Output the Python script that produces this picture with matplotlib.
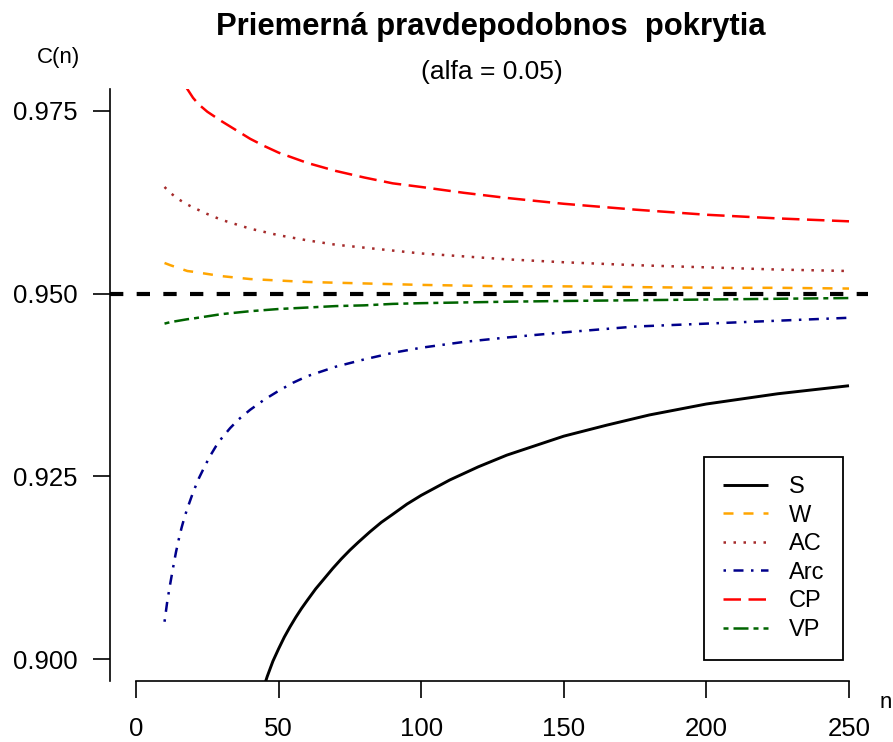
#!/usr/bin/env python3
# -*- coding: utf-8 -*-
"""
Priemerná pravdepodobnosť pokrytia C(n) pre 6 intervalov (alfa = 0.05).
Hodnoty odčítané z obrázka, kreslí sa v štýle base-R grafu.
"""

import matplotlib
matplotlib.use('Agg')                 # bez displeja
import matplotlib.pyplot as plt

plt.rcParams.update({
    'figure.facecolor': 'white',
    'axes.facecolor':   'white',
    'font.family':      ['Liberation Sans', 'DejaVu Sans'],
    'font.size':        18.5,
    'lines.scale_dashes': False,
    'lines.solid_capstyle': 'butt',
    'lines.dash_capstyle': 'butt',
})

# --- data (odčítané z grafu) ---
N_GRID = [10, 12, 15, 18, 20, 25, 30, 35, 40, 50, 60, 70, 80, 90, 100,
          115, 130, 150, 175, 200, 225, 250]

N_S = [44, 46, 48, 50, 52, 54, 56, 58, 60, 63, 66, 69, 72, 75, 78, 82, 86,
       90, 95, 100, 110, 120, 130, 140, 150, 165, 180, 200, 225, 250]
C_S = [0.8952, 0.8976, 0.8997, 0.9014, 0.9030, 0.9044, 0.9057, 0.9069,
       0.9080, 0.9096, 0.9110, 0.9124, 0.9137, 0.9149, 0.9160, 0.9174,
       0.9187, 0.9198, 0.9212, 0.9224, 0.9245, 0.9263, 0.9279, 0.9292,
       0.9305, 0.9320, 0.9334, 0.9349, 0.9363, 0.9374]

C_W = [0.9542, 0.9539, 0.9535, 0.9531, 0.9530, 0.9527, 0.9524, 0.9522,
       0.9520, 0.9518, 0.9516, 0.9515, 0.9514, 0.9513, 0.9512, 0.9511,
       0.9510, 0.9510, 0.9509, 0.9508, 0.9508, 0.9507]

C_AC = [0.9646, 0.9638, 0.9629, 0.9622, 0.9618, 0.9609, 0.9601, 0.9595,
        0.9589, 0.9580, 0.9573, 0.9567, 0.9563, 0.9559, 0.9555, 0.9551,
        0.9547, 0.9543, 0.9539, 0.9536, 0.9533, 0.9531]

N_ARC = [10, 11, 12, 13, 14, 15, 16, 17, 18, 20, 22, 24, 26, 28, 30, 33,
         36, 40, 45, 50, 55, 60, 70, 80, 90, 100, 115, 130, 150, 175, 200,
         225, 250]
C_ARC = [0.9051, 0.9080, 0.9103, 0.9125, 0.9146, 0.9164, 0.9180, 0.9194,
         0.9206, 0.9228, 0.9247, 0.9263, 0.9278, 0.9291, 0.9302, 0.9316,
         0.9328, 0.9341, 0.9355, 0.9367, 0.9378, 0.9387, 0.9400, 0.9410,
         0.9419, 0.9426, 0.9434, 0.9440, 0.9447, 0.9455, 0.9459, 0.9463,
         0.9467]

N_CP = [10, 14, 16, 18, 20, 22, 25, 30, 35, 40, 45, 50, 60, 70, 80, 90,
        100, 115, 130, 150, 175, 200, 225, 250]
C_CP = [0.9845, 0.9806, 0.9792, 0.9780, 0.9768, 0.9759, 0.9749, 0.9736,
        0.9724, 0.9712, 0.9702, 0.9693, 0.9679, 0.9668, 0.9659, 0.9651,
        0.9646, 0.9638, 0.9631, 0.9623, 0.9615, 0.9608, 0.9603, 0.9599]

C_VP = [0.9459, 0.9461, 0.9463, 0.9465, 0.9466, 0.9469, 0.9472, 0.9474,
        0.9476, 0.9479, 0.9481, 0.9483, 0.9484, 0.9486, 0.9487, 0.9488,
        0.9489, 0.9490, 0.9491, 0.9492, 0.9493, 0.9494]

LABELS = ['S', 'W', 'AC', 'Arc', 'CP', 'VP']
X_TICKS = [0, 50, 100, 150, 200, 250]
Y_TICKS = [0.900, 0.925, 0.950, 0.975]
ALFA = 0.05
NOMINAL = 1 - ALFA

W, H = 893, 742
fig = plt.figure(figsize=(W / 100, H / 100), dpi=100)
# plotovacia oblasť v pixeloch: x 110..868, y 89..681
ax = fig.add_axes([110 / W, 1 - 681 / H, (868 - 110) / W, (681 - 89) / H])

u = 1.8   # základná jednotka čiarkovania (pt), ~ R lty pri lwd=1
lw = 1.8
specs = [
    (N_S,    C_S,   'black',   '-',                              2.1),
    (N_GRID, C_W,   '#FFA500', (0, (4 * u, 4 * u)),              lw),
    (N_GRID, C_AC,  '#A52A2A', (0, (1 * u, 3 * u)),              lw),
    (N_ARC,  C_ARC, '#00008B', (0, (1 * u, 3 * u, 4 * u, 3 * u)), lw),
    (N_CP,   C_CP,  '#FF0000', (0, (7 * u, 3 * u)),              lw),
    (N_GRID, C_VP,  '#006400', (0, (2 * u, 2 * u, 6 * u, 2 * u)), lw),
]
handles = []
for (xs, ys, col, ls, w), lab in zip(specs, LABELS):
    h, = ax.plot(xs, ys, color=col, linestyle=ls, linewidth=w, label=lab)
    handles.append(h)

ax.axhline(NOMINAL, color='black', linewidth=3.0,
           linestyle=(0, (9.6, 9.6)))

ax.set_xlim(-9.12, 256.66)
ax.set_ylim(0.89699, 0.97801)
ax.set_xticks(X_TICKS)
ax.set_yticks(Y_TICKS)
ax.set_yticklabels([f'{v:.3f}' for v in Y_TICKS])
ax.spines['top'].set_visible(False)
ax.spines['right'].set_visible(False)
ax.spines['bottom'].set_bounds(0, 250)
for s in ('left', 'bottom'):
    ax.spines[s].set_linewidth(1.2)
ax.tick_params(axis='both', direction='out', length=12.2, width=1.2,
               labelsize=18.5)
ax.tick_params(axis='x', pad=13.5)
ax.tick_params(axis='y', pad=11.0)

leg = ax.legend(handles=handles, loc='upper left',
                bbox_to_anchor=(704 / W, 1 - 457 / H),
                bbox_transform=fig.transFigure, borderaxespad=0,
                fontsize=17, frameon=True, fancybox=False, framealpha=1,
                edgecolor='black', borderpad=0.8, labelspacing=0.28,
                handlelength=1.9, handletextpad=0.9)
leg.get_frame().set_linewidth(1.3)

fig.text(491 / W, 1 - 27 / H, 'Priemerná pravdepodobnos  pokrytia',
         ha='center', va='center', fontsize=22.3, fontweight='bold')
fig.text(492 / W, 1 - 72 / H, f'(alfa = {ALFA})',
         ha='center', va='center', fontsize=19)
fig.text(58 / W, 1 - 57 / H, 'C(n)', ha='center', va='center', fontsize=16)
fig.text(886 / W, 1 - 703 / H, 'n', ha='center', va='center', fontsize=16)

fig.savefig('out.png', dpi=100)
plt.close(fig)
